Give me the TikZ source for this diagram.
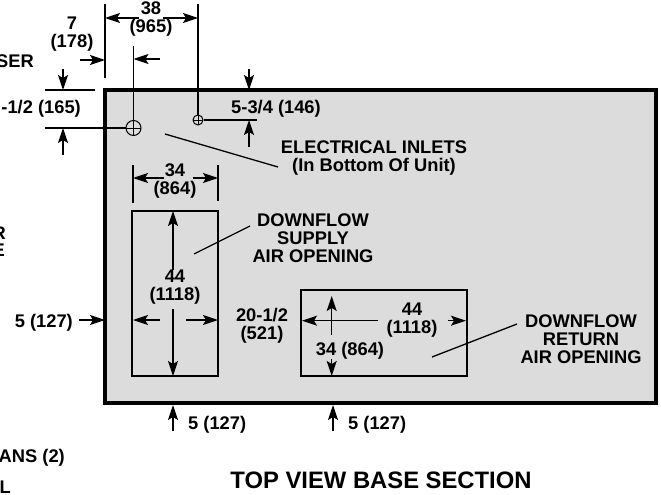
\documentclass[tikz,border=0pt]{standalone}
\usepackage{fontspec}
\setmainfont{Liberation Sans}
\usetikzlibrary{arrows.meta}
\definecolor{basegray}{HTML}{DCDCDC}
\tikzset{
  x=1pt,y=-1pt,
  lbl/.style={inner sep=0pt,font=\fontsize{18.3}{18}\selectfont\bfseries,align=center,text=black},
  ttl/.style={inner sep=0pt,font=\fontsize{23.8}{24}\selectfont\bfseries,text=black},
  ext/.style={line width=1.3pt,black},
  dim/.style={line width=1.3pt,black,-{Stealth[length=15pt,width=10pt,inset=3pt]}},
  wall/.style={line width=3.2pt,black,fill=basegray,line join=miter},
  open/.style={line width=2pt,black,line join=miter},
  hole/.style={circle,draw=black,line width=1pt,minimum size=#1,inner sep=0pt,path picture={
    \draw[line width=1pt] (path picture bounding box.north)--(path picture bounding box.south)
      (path picture bounding box.west)--(path picture bounding box.east);}},
}
\begin{document}
\begin{tikzpicture}
\useasboundingbox (0,0) rectangle (661,495);
\clip (0,0) rectangle (661,495);
% body
\draw[wall] (105,90) rectangle (656,403);
\draw[open] (132,211) rectangle (218,376);
\draw[open] (301,290) rectangle (467,376);
% holes
\node[hole=15pt] (h1) at (133.5,128) {};
\node[hole=10pt] (h2) at (198,120) {};
% 38 (965)
\coordinate (a1) at (105,4); \coordinate (a2) at (105,78);
\coordinate (b1) at (198,4);
\draw[ext] (a1)--(a2);
\draw[ext] (b1)--(h2.north);
\coordinate (t38l) at (139,18); \coordinate (t38lh) at (105,18);
\coordinate (t38r) at (163,18); \coordinate (t38rh) at (198,18);
\draw[dim] (t38l)--(t38lh);
\draw[dim] (t38r)--(t38rh);
\node[lbl] (n38) at (151,19) {38\\(965)};
% 7 (178)
\coordinate (c1) at (133.5,46);
\draw[ext] (c1)--(h1.north);
\coordinate (t7l) at (80,60); \coordinate (t7lh) at (105,60);
\coordinate (t7r) at (160,59); \coordinate (t7rh) at (133.5,59);
\draw[dim] (t7l)--(t7lh);
\draw[dim] (t7r)--(t7rh);
\node[lbl] (n7) at (72,34) {7\\(178)};
\node[lbl,anchor=east] (nser) at (34,61) {SER};
% 6-1/2 (165)
\coordinate (d1) at (45,90); \coordinate (d2) at (95,90);
\coordinate (e1) at (45,128);
\draw[ext] (d1)--(d2);
\draw[ext] (e1)--(h1.west);
\coordinate (f1) at (63,69); \coordinate (f1h) at (63,90);
\coordinate (f2) at (63,155); \coordinate (f2h) at (63,128);
\draw[dim] (f1)--(f1h);
\draw[dim] (f2)--(f2h);
\node[lbl,anchor=east] (n165) at (81,109) {-1/2 (165)};
% 5-3/4 (146)
\coordinate (g1) at (257,120);
\draw[ext] (h2.east)--(g1);
\coordinate (g2) at (249,69); \coordinate (g2h) at (249,90);
\coordinate (g3) at (249,147); \coordinate (g3h) at (249,120);
\draw[dim] (g2)--(g2h);
\draw[dim] (g3)--(g3h);
\node[lbl] (n146) at (276,108.5) {5-3/4 (146)};
% electrical inlets
\node[lbl] (nelec) at (374,158.5) {ELECTRICAL INLETS\\(In Bottom Of Unit)};
\coordinate (l1) at (165,134); \coordinate (l2) at (278,167);
\draw[ext] (l1)--(l2);
% 34 (864) top
\coordinate (i1) at (133,165); \coordinate (i2) at (133,203);
\coordinate (j1) at (218,165); \coordinate (j2) at (218,201);
\draw[ext] (i1)--(i2);
\draw[ext] (j1)--(j2);
\coordinate (k1) at (164,178); \coordinate (k1h) at (133,178);
\coordinate (k2) at (193,178); \coordinate (k2h) at (218,178);
\draw[dim] (k1)--(k1h);
\draw[dim] (k2)--(k2h);
\node[lbl] (n34) at (175,181) {34\\(864)};
% supply
\node[lbl] (nsup) at (313,238) {DOWNFLOW\\SUPPLY\\AIR OPENING};
\coordinate (m1) at (250,226); \coordinate (m2) at (194,254);
\draw[ext] (m1)--(m2);
% 44 in supply
\coordinate (o1) at (173,270); \coordinate (o1h) at (173,211);
\coordinate (o2) at (173,309); \coordinate (o2h) at (173,376);
\draw[dim] (o1)--(o1h);
\draw[dim] (o2)--(o2h);
\coordinate (p1) at (160,320); \coordinate (p1h) at (133,320);
\coordinate (p2) at (186,320); \coordinate (p2h) at (218,320);
\draw[dim] (p1)--(p1h);
\draw[dim] (p2)--(p2h);
\node[lbl] (n44a) at (175,287.5) {44\\(1118)};
% 5 (127) left
\node[lbl,anchor=east] (n5a) at (73,323) {5 (127)};
\coordinate (q1) at (79,320); \coordinate (q1h) at (105,320);
\draw[dim] (q1)--(q1h);
\node[lbl] (n20) at (262,325.5) {20-1/2\\(521)};
% return
\coordinate (r1) at (377.5,320.7); \coordinate (r1h) at (302,320.7);
\coordinate (r2) at (448,320.7); \coordinate (r2h) at (466,320.7);
\draw[dim] (r1)--(r1h);
\draw[dim] (r2)--(r2h);
\coordinate (s1) at (331.7,335); \coordinate (s1h) at (331.7,296);
\coordinate (s2) at (331.7,359); \coordinate (s2h) at (331.7,376);
\draw[dim] (s1)--(s1h);
\draw[dim] (s2)--(s2h);
\node[lbl] (n34b) at (350,350.5) {34 (864)};
\node[lbl] (n44b) at (412,320) {44\\(1118)};
\node[lbl] (nret) at (581,339.5) {DOWNFLOW\\RETURN\\AIR OPENING};
\coordinate (u1) at (517,324); \coordinate (u2) at (432,357);
\draw[ext] (u1)--(u2);
% bottom
\coordinate (v1) at (173,431); \coordinate (v1h) at (173,405);
\coordinate (v2) at (333,431); \coordinate (v2h) at (333,405);
\draw[dim] (v1)--(v1h);
\draw[dim] (v2)--(v2h);
\node[lbl,anchor=west] (n5b) at (188,425) {5 (127)};
\node[lbl,anchor=west] (n5c) at (348,425) {5 (127)};
% cut-off labels
\node[lbl,anchor=east] (nr) at (6,233) {R};
\node[lbl,anchor=east] (ne) at (5,250) {E};
\node[lbl,anchor=east] (nfans) at (65,458) {ANS (2)};
\node[lbl,anchor=east] (nl) at (11,487) {L};
\node[ttl] (title) at (381,480.5) {TOP VIEW BASE SECTION};
\end{tikzpicture}
\end{document}
